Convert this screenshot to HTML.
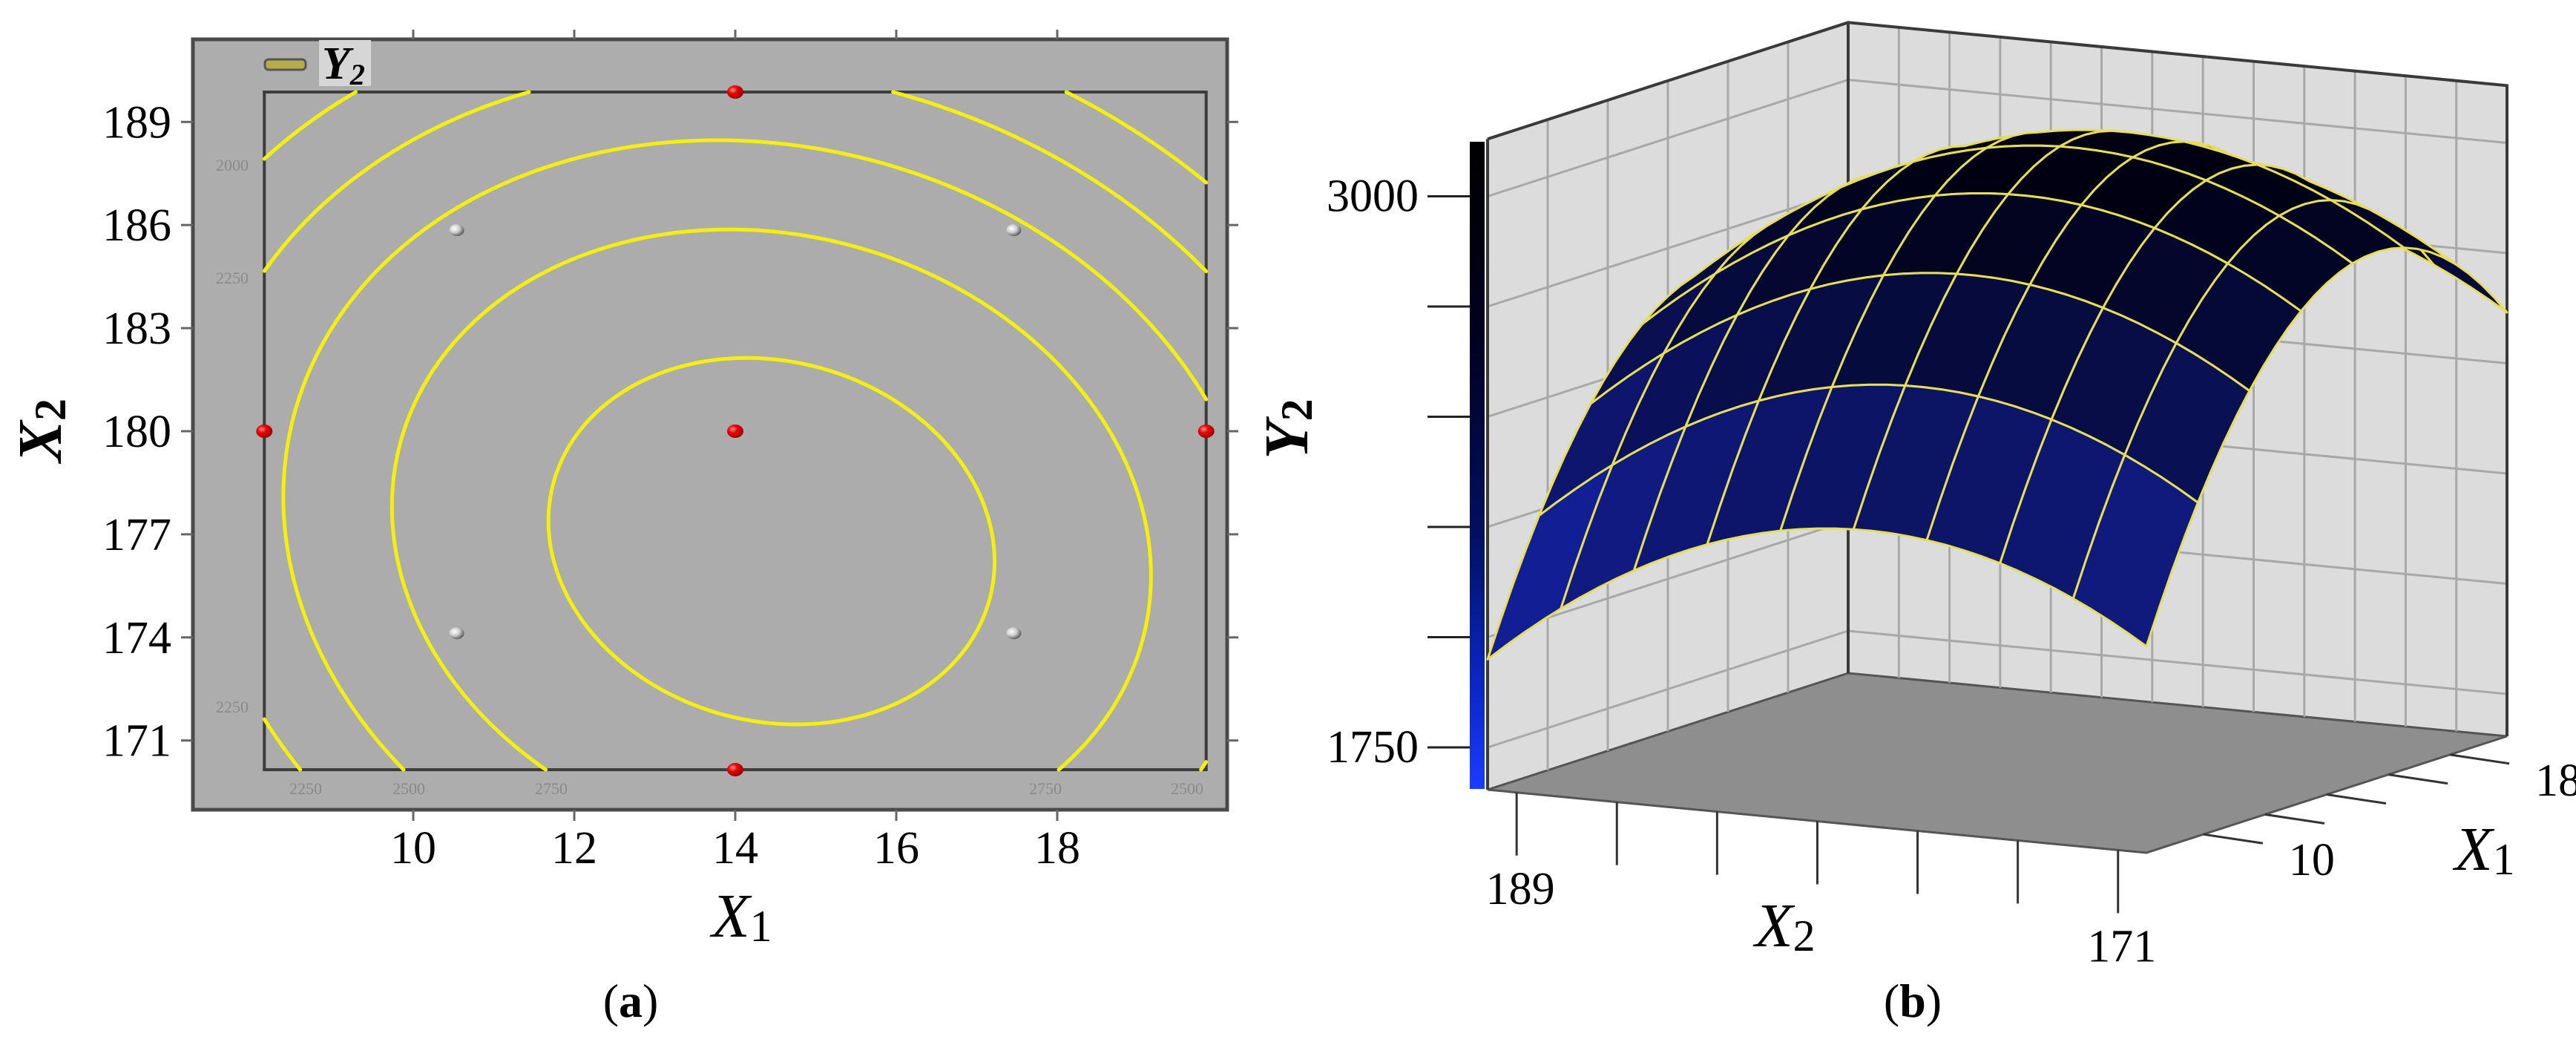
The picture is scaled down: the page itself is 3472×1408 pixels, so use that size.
<!DOCTYPE html>
<html><head><meta charset="utf-8"><style>
html,body{margin:0;padding:0;background:#fff;}
svg{display:block;}
text{font-family:"Liberation Serif",serif;}
</style></head><body>
<svg id="fig" xmlns="http://www.w3.org/2000/svg" width="3472" height="1408" viewBox="0 0 3472 1408">
<defs>
<radialGradient id="redDot" cx="35%" cy="35%" r="70%"><stop offset="0" stop-color="#ff9090"/><stop offset="0.4" stop-color="#ee0000"/><stop offset="1" stop-color="#900000"/></radialGradient>
<radialGradient id="grayDot" cx="35%" cy="35%" r="70%"><stop offset="0" stop-color="#ffffff"/><stop offset="0.5" stop-color="#cccccc"/><stop offset="1" stop-color="#555555"/></radialGradient>
<linearGradient id="cbar" x1="0" y1="0" x2="0" y2="1"><stop offset="0" stop-color="#000000"/><stop offset="0.3" stop-color="#000020"/><stop offset="0.6" stop-color="#001060"/><stop offset="0.85" stop-color="#0a28c8"/><stop offset="1" stop-color="#1a3cff"/></linearGradient>
</defs>
<g id="panelA"></g>
<g id="panelB"></g>
</svg>
<script>
// ---- data ----
const modelCenter = [14.45, 176.8];      // X1, X2 of optimum (contour)
const modelPeak = [3132];
const modelCoef = [17.4, 4.7, 2.0];      // kX1, kX2, kX1X2
const surfCenter = [15.62, 178.5];       // 3D surface optimum
const surfPeak = [3050];
const surfCoef = [13.0, 2.9];
const contourLevels = [2000, 2250, 2500, 2750, 3000];
const x1Range = [8.15, 19.85];
const x2Range = [170.15, 189.87];
const x1Ticks = [10, 12, 14, 16, 18];
const x2Ticks = [171, 174, 177, 180, 183, 186, 189];
const axialX1 = [8.15, 19.85, 14, 14, 14];
const axialX2 = [180, 180, 189.87, 170.15, 180];
const factX1 = [10.54, 17.46, 10.54, 17.46];
const factX2 = [185.85, 185.85, 174.12, 174.12];
const contourLabelText = ["2000", "2250", "2250", "2250", "2500", "2750", "2750", "2500"];
const zTicks = [1750, 2000, 2250, 2500, 2750, 3000];
const zLabelTicks = [3000, 1750];
const x2FloorTicks = [189, 186, 183, 180, 177, 174, 171];
const x2FloorLabels = [189, 171];
const x1FloorTicks = [10, 12, 14, 16, 18];
const x1FloorLabels = [10, 18];

const NS = "http://www.w3.org/2000/svg";
function el(tag, attrs, parent) {
  const e = document.createElementNS(NS, tag);
  for (const k in attrs) e.setAttribute(k, attrs[k]);
  parent.appendChild(e);
  return e;
}
function model(x1, x2) {
  const dx = x1 - modelCenter[0], dy = x2 - modelCenter[1];
  return modelPeak[0] - modelCoef[0]*dx*dx - modelCoef[1]*dy*dy - modelCoef[2]*dx*dy;
}
function surf(x1, x2) {
  const dx = x1 - surfCenter[0], dy = x2 - surfCenter[1];
  return surfPeak[0] - surfCoef[0]*dx*dx - surfCoef[1]*dy*dy;
}

// ---- Panel A ----
const A = document.getElementById('panelA');
const sx = v => 991 + (v - 14) * 108.5;
const sy = v => 581 - (v - 180) * 46.3;

let r = el('rect', {x:260, y:53, width:1394, height:1038, fill:'#adadad', stroke:'#4a4a4a', 'stroke-width':5}, A);


x1Ticks.forEach(t => {
  let a = el('line', {x1:sx(t), y1:40, x2:sx(t), y2:53, stroke:'#666', 'stroke-width':3}, A);
  
  
  let b = el('line', {x1:sx(t), y1:1091, x2:sx(t), y2:1106, stroke:'#666', 'stroke-width':3}, A);
  
  
  let lb = el('text', {x:sx(t), y:1163, 'font-size':62, 'text-anchor':'middle'}, A);
  lb.textContent = t;
  
  
});
x2Ticks.forEach(t => {
  let a = el('line', {x1:244, y1:sy(t), x2:260, y2:sy(t), stroke:'#666', 'stroke-width':3}, A);
  
  
  let b = el('line', {x1:1654, y1:sy(t), x2:1669, y2:sy(t), stroke:'#666', 'stroke-width':3}, A);
  
  
  let lb = el('text', {x:231, y:sy(t)+21, 'font-size':62, 'text-anchor':'end'}, A);
  lb.textContent = t;
  
  
});
let ir = el('rect', {x:sx(x1Range[0]), y:sy(x2Range[1]), width:sx(x1Range[1])-sx(x1Range[0]), height:sy(x2Range[0])-sy(x2Range[1]), fill:'#acacac', stroke:'#3c3c3c', 'stroke-width':4}, A);


(function(){
  const N = 160;
  const gx = [], gy = [];
  for (let i = 0; i <= N; i++) { gx.push(x1Range[0] + (x1Range[1]-x1Range[0])*i/N); gy.push(x2Range[0] + (x2Range[1]-x2Range[0])*i/N); }
  const V = [];
  for (let j = 0; j <= N; j++) { V.push([]); for (let i = 0; i <= N; i++) V[j].push(model(gx[i], gy[j])); }
  contourLevels.forEach(L => {
    let d = '';
    for (let j = 0; j < N; j++) for (let i = 0; i < N; i++) {
      const c = [[gx[i],gy[j],V[j][i]],[gx[i+1],gy[j],V[j][i+1]],[gx[i+1],gy[j+1],V[j+1][i+1]],[gx[i],gy[j+1],V[j+1][i]]];
      const pts = [];
      for (let k = 0; k < 4; k++) {
        const p = c[k], q = c[(k+1)%4];
        if ((p[2]-L)*(q[2]-L) < 0) {
          const t = (L-p[2])/(q[2]-p[2]);
          pts.push([sx(p[0]+t*(q[0]-p[0])), sy(p[1]+t*(q[1]-p[1]))]);
        }
      }
      if (pts.length >= 2) d += 'M' + pts[0][0].toFixed(1) + ' ' + pts[0][1].toFixed(1) + 'L' + pts[1][0].toFixed(1) + ' ' + pts[1][1].toFixed(1);
      if (pts.length === 4) d += 'M' + pts[2][0].toFixed(1) + ' ' + pts[2][1].toFixed(1) + 'L' + pts[3][0].toFixed(1) + ' ' + pts[3][1].toFixed(1);
    }
    const p = el('path', {d:d, fill:'none', stroke:'#f4ef10', 'stroke-width':5, 'stroke-linecap':'round'}, A);
    
    
  });
})();
const clPos = [[313,230],[313,382],[313,960],[412,1070],[551,1070],[743,1070],[1409,1070],[1600,1070]];
contourLabelText.forEach((t, i) => {
  const tx = el('text', {x:clPos[i][0], y:clPos[i][1], 'font-size':22, fill:'#8a8a8a', 'text-anchor':'middle', 'font-family':'Liberation Sans, sans-serif'}, A);
  tx.textContent = t;
  
  
});
axialX1.forEach((v, i) => {
  const c = el('ellipse', {cx:sx(v), cy:sy(axialX2[i]), rx:11, ry:9, fill:'url(#redDot)'}, A);
  
  
});
factX1.forEach((v, i) => {
  const c = el('ellipse', {cx:sx(v), cy:sy(factX2[i]), rx:10, ry:8, fill:'url(#grayDot)'}, A);
  
  
});
let lg = el('rect', {x:357, y:80, width:55, height:14, rx:5, fill:'#b5ad4c', stroke:'#555', 'stroke-width':3}, A);


let lgb = el('rect', {x:430, y:54, width:70, height:62, fill:'#d6d6d6'}, A);


let lgt = el('text', {x:434, y:106, 'font-size':62, 'font-style':'italic', 'font-weight':'bold'}, A);
lgt.innerHTML = 'Y<tspan font-size="40" dy="8">2</tspan>';


let at1 = el('text', {x:1000, y:1262, 'font-size':84, 'font-style':'italic', 'text-anchor':'middle'}, A);
at1.innerHTML = 'X<tspan font-size="60" font-style="normal" dy="6">1</tspan>';


let at2 = el('text', {x:0, y:0, 'font-size':84, 'font-style':'italic', 'font-weight':'bold', 'text-anchor':'middle', transform:'translate(82,580) rotate(-90)'}, A);
at2.innerHTML = 'X<tspan font-size="60" font-style="normal" dy="6">2</tspan>';


let capA = el('text', {x:850, y:1370, 'font-size':64, 'text-anchor':'middle'}, A);
capA.innerHTML = '(<tspan font-weight="bold">a</tspan>)';



// ---- Panel B ----
const B = document.getElementById('panelB');
const Z0 = 1654, ZS = 0.594, ZTOP = 3130;
function P(x1, x2, z) {
  const u = (x2Range[1] - x2) / (x2Range[1] - x2Range[0]);
  const v = (x1 - x1Range[0]) / (x1Range[1] - x1Range[0]);
  return [2005 + u*888 + v*486, 1064 + u*85 - v*157 - (z - Z0)*ZS];
}
const pt = p => p[0].toFixed(1) + ',' + p[1].toFixed(1);
const X1a = x1Range[0], X1b = x1Range[1], X2a = x2Range[0], X2b = x2Range[1];
let lw = el('polygon', {points:[P(X1a,X2b,Z0),P(X1b,X2b,Z0),P(X1b,X2b,ZTOP),P(X1a,X2b,ZTOP)].map(pt).join(' '), fill:'#dcdcdc'}, B);


let rw = el('polygon', {points:[P(X1b,X2b,Z0),P(X1b,X2a,Z0),P(X1b,X2a,ZTOP),P(X1b,X2b,ZTOP)].map(pt).join(' '), fill:'#dcdcdc'}, B);


let fl = el('polygon', {points:[P(X1a,X2b,Z0),P(X1b,X2b,Z0),P(X1b,X2a,Z0),P(X1a,X2a,Z0)].map(pt).join(' '), fill:'#8e8e8e', stroke:'#555', 'stroke-width':3}, B);


let gd = '';
for (let k = 1; k < 6; k++) { const x = X1a + (X1b-X1a)*k/6; gd += 'M' + pt(P(x,X2b,Z0)) + 'L' + pt(P(x,X2b,ZTOP)); }
for (let k = 1; k < 13; k++) { const x = X2b - (X2b-X2a)*k/13; gd += 'M' + pt(P(X1b,x,Z0)) + 'L' + pt(P(X1b,x,ZTOP)); }
zTicks.forEach(z => { gd += 'M' + pt(P(X1a,X2b,z)) + 'L' + pt(P(X1b,X2b,z)) + 'L' + pt(P(X1b,X2a,z)); });
let gp = el('path', {d:gd, fill:'none', stroke:'#a8a8a8', 'stroke-width':3}, B);


let ed = 'M' + pt(P(X1a,X2b,ZTOP)) + 'L' + pt(P(X1b,X2b,ZTOP)) + 'L' + pt(P(X1b,X2a,ZTOP)) + 'L' + pt(P(X1b,X2a,Z0)) +
  'M' + pt(P(X1b,X2b,ZTOP)) + 'L' + pt(P(X1b,X2b,Z0)) + 'M' + pt(P(X1a,X2b,ZTOP)) + 'L' + pt(P(X1a,X2b,Z0));
let ep = el('path', {d:ed, fill:'none', stroke:'#3a3a3a', 'stroke-width':4}, B);


let cb = el('rect', {x:1981, y:191, width:20, height:872, fill:'url(#cbar)'}, B);


zTicks.forEach(z => {
  const p = P(X1a, X2b, z);
  const t = el('line', {x1:1924, y1:p[1], x2:1981, y2:p[1], stroke:'#222', 'stroke-width':3}, B);
  
  
});
zLabelTicks.forEach(z => {
  const p = P(X1a, X2b, z);
  const t = el('text', {x:1912, y:p[1]+20, 'font-size':62, 'text-anchor':'end'}, B);
  t.textContent = z;
  
  
});
(function(){
  const NI = 7, NJ = 9, SUB = 4;
  const cells = [];
  for (let i = 0; i < NI; i++) for (let j = 0; j < NJ; j++) {
    const x1s = X1a + (X1b-X1a)*i/NI, x1e = X1a + (X1b-X1a)*(i+1)/NI;
    const x2s = X2b - (X2b-X2a)*j/NJ, x2e = X2b - (X2b-X2a)*(j+1)/NJ;
    const poly = [];
    for (let s = 0; s <= SUB; s++) { const a = x2s + (x2e-x2s)*s/SUB; poly.push(P(x1s, a, surf(x1s, a))); }
    for (let s = 1; s <= SUB; s++) { const a = x1s + (x1e-x1s)*s/SUB; poly.push(P(a, x2e, surf(a, x2e))); }
    for (let s = 1; s <= SUB; s++) { const a = x2e + (x2s-x2e)*s/SUB; poly.push(P(x1e, a, surf(x1e, a))); }
    for (let s = 1; s < SUB; s++) { const a = x1e + (x1s-x1e)*s/SUB; poly.push(P(a, x2s, surf(a, x2s))); }
    const mx = (x1s+x1e)/2, my = (x2s+x2e)/2;
    const depth = (mx - X1a)/(X1b-X1a);
    cells.push({poly, z:surf(mx,my), depth});
  }
  cells.sort((a,b) => b.depth - a.depth);
  cells.forEach(c => {
    let t = (c.z - 2000) / (3000 - 2000); t = Math.max(0, Math.min(1, t));
    const R = Math.round(22*(1-t)), G = Math.round(38*(1-t)), Bc = Math.round(175*(1-t) + 18*t);
    const pg = el('polygon', {points:c.poly.map(pt).join(' '), fill:'rgb('+R+','+G+','+Bc+')', stroke:'#e6de5a', 'stroke-width':3, 'stroke-linejoin':'round'}, B);
    
    
  });
})();
x2FloorTicks.forEach(v => {
  const p = P(X1a, v, Z0);
  const t = el('line', {x1:p[0], y1:p[1], x2:p[0], y2:p[1]+85, stroke:'#333', 'stroke-width':3}, B);
  
  
});
x2FloorLabels.forEach(v => {
  const p = P(X1a, v, Z0);
  const t = el('text', {x:p[0]+5, y:p[1]+150, 'font-size':62, 'text-anchor':'middle'}, B);
  t.textContent = v;
  
  
});
x1FloorTicks.forEach(v => {
  const p = P(v, X2a, Z0);
  const t = el('line', {x1:p[0], y1:p[1], x2:p[0]+80, y2:p[1]+12, stroke:'#333', 'stroke-width':3}, B);
  
  
});
x1FloorLabels.forEach(v => {
  const p = P(v, X2a, Z0);
  const t = el('text', {x:p[0]+115, y:p[1]+55, 'font-size':62, 'text-anchor':'start'}, B);
  t.textContent = v;
  
  
});
let bt1 = el('text', {x:3349, y:1172, 'font-size':84, 'font-style':'italic', 'text-anchor':'middle'}, B);
bt1.innerHTML = 'X<tspan font-size="60" font-style="normal" dy="6">1</tspan>';


let bt2 = el('text', {x:2406, y:1275, 'font-size':84, 'font-style':'italic', 'text-anchor':'middle'}, B);
bt2.innerHTML = 'X<tspan font-size="60" font-style="normal" dy="6">2</tspan>';


let bt3 = el('text', {x:0, y:0, 'font-size':84, 'font-style':'italic', 'font-weight':'bold', 'text-anchor':'middle', transform:'translate(1762,578) rotate(-90)'}, B);
bt3.innerHTML = 'Y<tspan font-size="60" font-style="normal" dy="6">2</tspan>';


let capB = el('text', {x:2578, y:1370, 'font-size':64, 'text-anchor':'middle'}, B);
capB.innerHTML = '(<tspan font-weight="bold">b</tspan>)';


</script>
</body></html>
